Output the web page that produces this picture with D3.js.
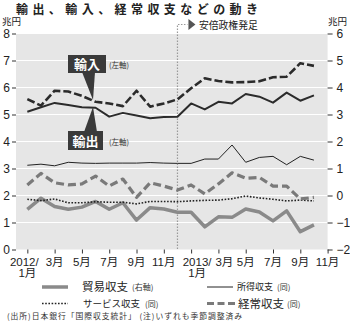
<!DOCTYPE html>
<html><head><meta charset="utf-8">
<script src="https://cdn.jsdelivr.net/npm/d3@7"></script>
<style>
body{margin:0;background:#fff;}
svg{display:block;font-family:"Liberation Sans","Noto Sans CJK JP",sans-serif;}
.jp{font-family:"Noto Sans CJK JP",sans-serif;}
</style></head><body>
<svg id="c" width="350" height="323"></svg>
<script>
// months index 0 = 2012/1 ... 21 = 2013/10
const months = d3.range(22);
const exportsL = [5.10,5.27,5.43,5.35,5.27,5.25,4.92,5.06,4.96,4.86,4.91,4.92,5.41,5.19,5.47,5.41,5.76,5.66,5.44,5.81,5.51,5.71];
const importsL = [5.57,5.33,5.88,5.85,5.69,5.47,5.41,5.31,5.88,5.29,5.41,5.56,5.97,6.34,6.24,6.19,6.20,6.23,6.38,6.40,6.90,6.80];
const incomeR  = [1.12,1.16,1.10,1.23,1.20,1.19,1.20,1.20,1.20,1.22,1.20,1.19,1.19,1.35,1.35,1.87,1.23,1.41,1.45,1.14,1.45,1.31];
const currentR = [0.39,0.82,0.47,0.39,0.43,0.72,0.35,0.61,-0.07,0.47,0.35,0.20,0.39,0.06,0.43,0.84,0.64,0.67,0.35,0.35,-0.13,-0.07];
const serviceR = [-0.14,-0.19,-0.13,-0.27,-0.27,-0.23,-0.25,-0.25,-0.31,-0.22,-0.22,-0.23,-0.20,-0.18,-0.17,-0.12,-0.02,-0.09,-0.14,-0.20,-0.17,-0.20];
const tradeR   = [-0.51,-0.10,-0.41,-0.51,-0.43,-0.22,-0.51,-0.27,-0.91,-0.45,-0.50,-0.62,-0.62,-1.16,-0.79,-0.81,-0.50,-0.61,-0.94,-0.57,-1.34,-1.09];
const leftTicks = [0,1,2,3,4,5,6,7,8];
const rightTicks = [-2,-1,0,1,2,3,4,5,6];
const xTickMonths = [0,2,4,6,8,10,12,14,16,18,20,22];
const xTickLabels = [["2012/","1月"],["3月"],["5月"],["7月"],["9月"],["11月"],["2013/","1月"],["3月"],["5月"],["7月"],["9月"],["11月"]];
const abeMonth = 11;

const svg = d3.select("#c");
const x = d3.scaleLinear().domain([-0.83, 22]).range([16, 327.6]);
const yL = d3.scaleLinear().domain([0, 8]).range([249.5, 33.5]);
const yR = d3.scaleLinear().domain([-2, 6]).range([249.5, 33.5]);

// title
svg.append("text").attr("class","jp").attr("x",16).attr("y",14)
  .attr("font-size",12).attr("font-weight","bold").attr("fill","#222")
  .attr("textLength",242).attr("lengthAdjust","spacing")
  .text("輸出、輸入、経常収支などの動き");

// background
svg.append("rect").attr("x",x.range()[0]).attr("y",yL(8)).attr("width",x.range()[1]-x.range()[0])
  .attr("height",yL(0)-yL(8)).attr("fill","#e6e6e6");
// grid
svg.append("g").selectAll("line").data(leftTicks.slice(1)).join("line")
  .attr("x1",x.range()[0]).attr("x2",x.range()[1]).attr("y1",d=>yL(d)).attr("y2",d=>yL(d))
  .attr("stroke","#fff").attr("stroke-width",1.2);

// axes
const axL = svg.append("g").attr("transform","translate(16,0)")
  .call(d3.axisLeft(yL).tickValues(leftTicks).tickSize(4).tickPadding(2).tickFormat(d3.format("d")));
const axR = svg.append("g").attr("transform","translate(327.6,0)")
  .call(d3.axisRight(yR).tickValues(rightTicks).tickSize(5).tickPadding(4).tickFormat(d=>d<0?"−"+Math.abs(d):d));
const axX = svg.append("g").attr("transform","translate(0,249.5)")
  .call(d3.axisBottom(x).tickValues(xTickMonths).tickSize(4).tickFormat(""));
[axL,axR,axX].forEach(a=>{a.select(".domain").remove();a.selectAll("line").attr("stroke","#333");
  a.selectAll("text").attr("font-size",12).attr("fill","#222").attr("font-family","Liberation Sans, sans-serif");});

// x labels
const labelShift = m => (m >= 12 && m <= 14) ? 6 : 0;
const xl = svg.append("g");
xTickMonths.forEach((m,i)=>{
  const lines = xTickLabels[i];
  lines.forEach((t,j)=>{
    const dx = labelShift(m) + (lines.length>1 && j===0 ? (m===0 ? -3 : 0) : 0);
    xl.append("text").attr("x",x(m)+dx).attr("y",266+j*11)
      .attr("text-anchor","middle").attr("font-size",11.5).attr("fill","#222").text(t);
  });
});

// unit labels
svg.append("text").attr("class","jp").attr("x",2).attr("y",25).attr("font-size",9.5).attr("fill","#222").text("兆円");
svg.append("text").attr("class","jp").attr("x",347).attr("y",25).attr("text-anchor","end").attr("font-size",9.5).attr("fill","#222").text("兆円");

// Abe marker
svg.append("path").attr("d",`M${x(abeMonth)},249 L${x(abeMonth)},24.5 L${x(abeMonth)+10},24.5`)
  .attr("fill","none").attr("stroke","#999").attr("stroke-width",1.2).attr("stroke-dasharray","1.5,1.5");
svg.append("path").attr("d",`M${x(abeMonth)+11},19 L${x(abeMonth)+18},24.5 L${x(abeMonth)+11},30 Z`).attr("fill","#555");
svg.append("text").attr("class","jp").attr("x",x(abeMonth)+21.5).attr("y",29).attr("font-size",9.8).attr("fill","#222").text("安倍政権発足");

// lines
const lineL = d3.line().x((d,i)=>x(months[i])).y(d=>yL(d));
const lineR = d3.line().x((d,i)=>x(months[i])).y(d=>yR(d));
const g = svg.append("g").attr("fill","none").attr("stroke-linejoin","round");
g.append("path").datum(tradeR).attr("d",lineR).attr("stroke","#8a8a8a").attr("stroke-width",3.5);
g.append("path").datum(serviceR).attr("d",lineR).attr("stroke","#222").attr("stroke-width",1.6).attr("stroke-dasharray","1.6,1.6");
g.append("path").datum(currentR).attr("d",lineR).attr("stroke","#7a7a7a").attr("stroke-width",3.2).attr("stroke-dasharray","8,4");
g.append("path").datum(incomeR).attr("d",lineR).attr("stroke","#222").attr("stroke-width",1);
g.append("path").datum(exportsL).attr("d",lineL).attr("stroke","#2b2b2b").attr("stroke-width",2);
g.append("path").datum(importsL).attr("d",lineL).attr("stroke","#2b2b2b").attr("stroke-width",2.6).attr("stroke-dasharray","8,3");

// callouts
const boxFill = "#3a3a3a";
svg.append("path").attr("d","M82,72 L93,100 L95,72 Z").attr("fill",boxFill);
svg.append("rect").attr("x",68).attr("y",55).attr("width",38).attr("height",18).attr("fill",boxFill);
svg.append("text").attr("class","jp").attr("x",87).attr("y",69).attr("text-anchor","middle").attr("font-size",13).attr("font-weight","bold").attr("fill","#fff").text("輸入");
svg.append("text").attr("class","jp").attr("x",109).attr("y",68).attr("font-size",7.5).attr("fill","#333").text("(左軸)");

svg.append("path").attr("d","M84,132 L93,107 L97,132 Z").attr("fill",boxFill);
svg.append("rect").attr("x",68).attr("y",131).attr("width",35).attr("height",19).attr("fill",boxFill);
svg.append("text").attr("class","jp").attr("x",85.5).attr("y",145.5).attr("text-anchor","middle").attr("font-size",13).attr("font-weight","bold").attr("fill","#fff").text("輸出");
svg.append("text").attr("class","jp").attr("x",109).attr("y",145).attr("font-size",7.5).attr("fill","#333").text("(左軸)");

// legend
const lg = svg.append("g");
function legItem(x1,x2,y,stroke,sw,dash,label,labelX,fs,note,noteX){
  lg.append("line").attr("x1",x1).attr("x2",x2).attr("y1",y).attr("y2",y).attr("stroke",stroke).attr("stroke-width",sw).attr("stroke-dasharray",dash);
  lg.append("text").attr("class","jp").attr("x",labelX).attr("y",y+fs*0.38).attr("font-size",fs).attr("fill","#222").text(label);
  lg.append("text").attr("class","jp").attr("x",noteX).attr("y",y+3).attr("font-size",8).attr("fill","#333").text(note);
}
legItem(42,68,287,"#8a8a8a",3.5,null,"貿易収支",82,11.5,"(右軸)",132);
legItem(207,233,287,"#222",1,null,"所得収支",237,9,"(同)",277);
legItem(42,68,303.5,"#222",1.6,"1.6,1.6","サービス収支",83,9.5,"(同)",145);
legItem(207,235,303.5,"#7a7a7a",3.2,"7,3.5","経常収支",238,11.5,"(同)",287);

svg.append("text").attr("class","jp").attr("x",7).attr("y",318.5).attr("font-size",7.8).attr("fill","#333")
  .attr("textLength",235).attr("lengthAdjust","spacing")
  .text("(出所)日本銀行「国際収支統計」 (注)いずれも季節調整済み");
</script>
</body></html>
